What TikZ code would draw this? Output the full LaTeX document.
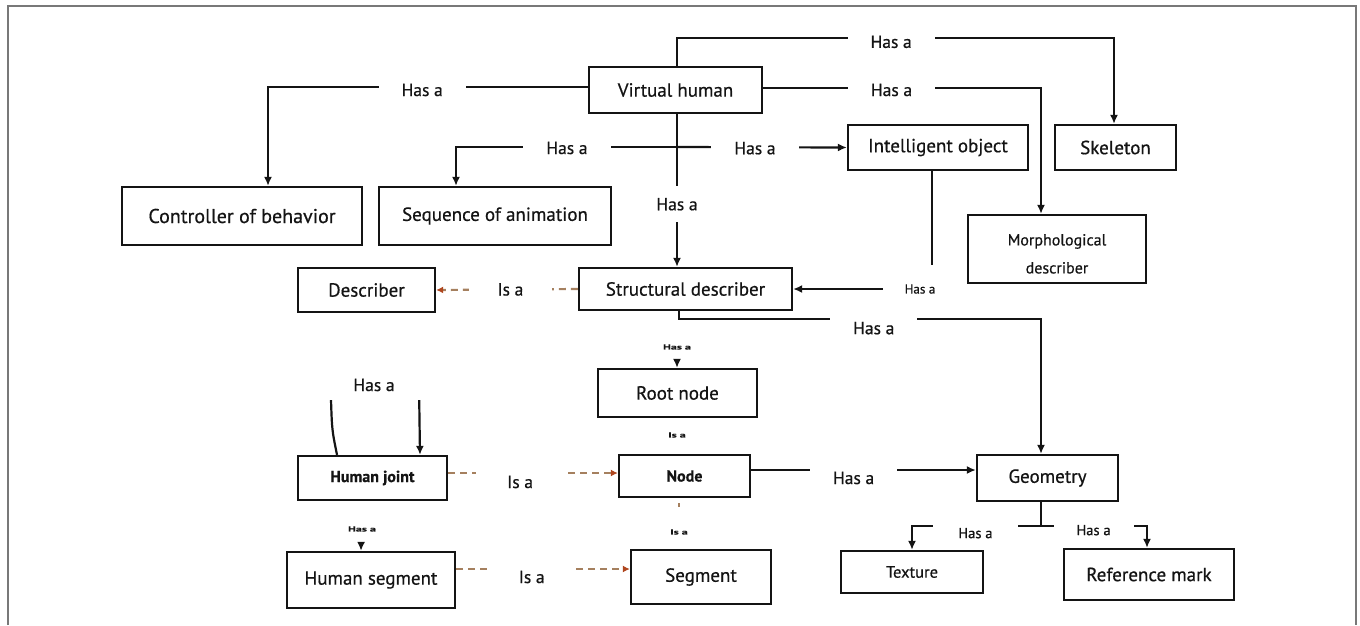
\documentclass[tikz,border=0pt]{standalone}
\usepackage{fontspec}
\usepackage{graphicx}
\setmainfont{PT Sans}[FakeBold=0.6]
\usetikzlibrary{arrows.meta}
\definecolor{ink}{RGB}{20,20,20}
\definecolor{framecol}{RGB}{120,120,120}
\definecolor{isacol}{RGB}{165,128,95}
\definecolor{isatip}{RGB}{175,70,30}
\tikzset{
  box/.style={draw=ink, line width=2.3pt, inner sep=0pt, text=ink, font=\fontsize{19}{21}\selectfont},
  sbox/.style={box, font=\fontsize{16}{18}\selectfont\bfseries},
  conn/.style={draw=ink, line width=2.2pt, -{Latex[length=9pt,width=8pt]}},
  isa/.style={draw=isacol, line width=2.2pt, dash pattern=on 7pt off 5pt, -{Latex[length=7pt,width=7pt,color=isatip]}},
  lbl/.style={fill=white, text=ink, font=\fontsize{17.5}{20}\selectfont, inner xsep=23pt, inner ysep=12pt},
  lblis/.style={lbl, inner xsep=29pt},
  lblsm/.style={fill=white, text=ink, font=\fontsize{14.5}{16}\selectfont, inner xsep=25pt, inner ysep=10pt},
  tlbl/.style={text=ink, font=\fontsize{12}{12}\selectfont\bfseries, inner sep=1pt},
}
\begin{document}
\begin{tikzpicture}[x=1pt,y=-1pt]
\useasboundingbox (0,0) rectangle (1360,625);
\draw[framecol, line width=2pt] (7.5,625) -- (7.5,6) -- (1356,6) -- (1356,625);

% boxes
\node[box, minimum width=173pt, minimum height=46pt] (vh) at (675.5,90) {Virtual human};
\node[box, minimum width=240pt, minimum height=58pt, font=\fontsize{20}{22}\selectfont] (ctrl) at (242,216) {Controller of behavior};
\node[box, minimum width=232pt, minimum height=58pt] (seq) at (495,216) {Sequence of animation};
\node[box, minimum width=180pt, minimum height=45pt] (io) at (938,147.5) {Intelligent object};
\node[box, minimum width=121pt, minimum height=45pt] (skel) at (1115.5,147.5) {Skeleton};
\node[box, minimum width=178pt, minimum height=68pt, align=center, font=\fontsize{16}{18}\selectfont] (morph) at (1057,249) {\rule{0pt}{21pt}Morphological\\[10pt]describer};
\node[box, minimum width=213pt, minimum height=42pt] (sd) at (685.5,289) {Structural describer};
\node[box, minimum width=137pt, minimum height=44pt] (desc) at (366.5,290) {Describer};
\node[box, minimum width=159pt, minimum height=48pt] (root) at (677.5,393) {Root node};
\node[sbox, minimum width=149pt, minimum height=44pt] (hj) at (372.5,478) {Human joint};
\node[sbox, minimum width=131pt, minimum height=42pt] (nd) at (684.5,476) {Node};
\node[box, minimum width=141pt, minimum height=46pt] (geom) at (1047.5,478) {Geometry};
\node[box, minimum width=168pt, minimum height=56pt] (hs) at (371,580) {Human segment};
\node[box, minimum width=140pt, minimum height=54pt] (seg) at (701,577) {Segment};
\node[box, minimum width=142pt, minimum height=42pt, font=\fontsize{16.5}{18}\selectfont] (tex) at (912,572) {Texture};
\node[box, minimum width=170pt, minimum height=51pt] (ref) at (1149,574.5) {Reference mark};

% Has a connectors from Virtual human
\draw[conn] ([xshift=1.5pt]vh.north) -- ++(0,-28) -| node[lbl,pos=0.245,yshift=-4pt]{Has a} ([xshift=-1.5pt]skel.north);
\draw[conn] ([yshift=2pt]vh.east) -| node[lbl,pos=0.231,yshift=-2pt]{Has a} ([xshift=-16pt]morph.north);
\draw[conn] ([yshift=3pt]vh.west) -| node[lbl,pos=0.259,yshift=-3pt]{Has a} ([xshift=26pt]ctrl.north);
\draw[conn] ([xshift=1.5pt]vh.south) -- node[lbl,pos=0.59,inner xsep=4pt]{Has a} ([xshift=-8.5pt]sd.north);
\coordinate (br) at (677,147);
\draw[conn] (br) -| node[lbl,pos=0.249,yshift=-1pt]{Has a} ([xshift=-39pt]seq.north);
\draw[conn] (br) -- node[lbl,pos=0.459,yshift=-1pt]{Has a} (io.west);

% Intelligent object -> Structural describer
\draw[conn] ([xshift=-6pt]io.south) |- node[pos=0.5, xshift=-12pt, fill=white, text=ink, font=\fontsize{13}{14}\selectfont, inner xsep=22pt, inner ysep=19pt]{Has a} (sd.east);

% Structural describer -> Geometry
\draw[conn] ([xshift=-6.5pt]sd.south) -- ++(0,8) -| node[lbl,pos=0.269,yshift=-9pt]{Has a} ([xshift=-6.5pt]geom.north);

% Structural describer -> Root node
\draw[conn, shorten <=50pt] ([xshift=-8.5pt]sd.south) -- ([xshift=-0.5pt]root.north);
\node[tlbl] (lhr) at (677,347) {\scalebox{1}[0.6]{Has a}};
\node[tlbl] (lir) at (677,435) {\scalebox{1}[0.6]{Is a}};

% Node -> Segment
\draw[isa, -, shorten <=5pt, shorten >=42pt] ([xshift=-5.5pt]nd.south) -- ([xshift=-22pt]seg.north);
\node[tlbl] (lis) at (679,532) {\scalebox{1}[0.6]{Is a}};

% Is a connectors
\draw[isa] (sd.west) -- node[lblis,pos=0.476,text=ink]{Is a} (desc.east);
\draw[isa] ([yshift=5pt]hj.east) -- node[lblis,pos=0.424,yshift=-9pt,inner xsep=31pt]{Is a} ([yshift=3pt]nd.west);
\draw[isa] ([yshift=11pt]hs.east) -- node[lblis,pos=0.435,yshift=-8pt,inner xsep=31pt]{Is a} ([yshift=8pt]seg.west);

% Human joint -> Human segment
\draw[conn, shorten <=42pt] ([xshift=-11pt]hj.south) -- ([xshift=-10pt]hs.north);
\node[tlbl] (lhh) at (362,529) {\scalebox{1}[0.6]{Has a}};

% Human joint self loop
\draw[conn] ([xshift=-35.5pt]hj.north) .. controls (332,430) .. (331,400) -- (331,385) -- (419,385) -- ([xshift=47.5pt]hj.north);
\node[fill=white, text=ink, font=\fontsize{17.5}{20}\selectfont, minimum width=110pt, minimum height=30pt, inner sep=0pt] (lloop) at (374,385) {Has a};

% Node -> Geometry
\draw[conn] ([yshift=6pt]nd.east) -- node[lbl,pos=0.456,yshift=-8pt]{Has a} ([yshift=8pt]geom.west);

% Geometry -> Texture, Reference mark
\draw[conn] ([xshift=-6.5pt]geom.south) -- ++(0,24) -| node[lblsm,pos=0.254,yshift=-7pt]{Has a} (tex.north);
\draw[conn] ([xshift=-6.5pt]geom.south) -- ++(0,24) -| node[lblsm,pos=0.248,yshift=-4pt,inner xsep=23pt]{Has a} ([xshift=-2pt]ref.north);
\end{tikzpicture}
\end{document}
